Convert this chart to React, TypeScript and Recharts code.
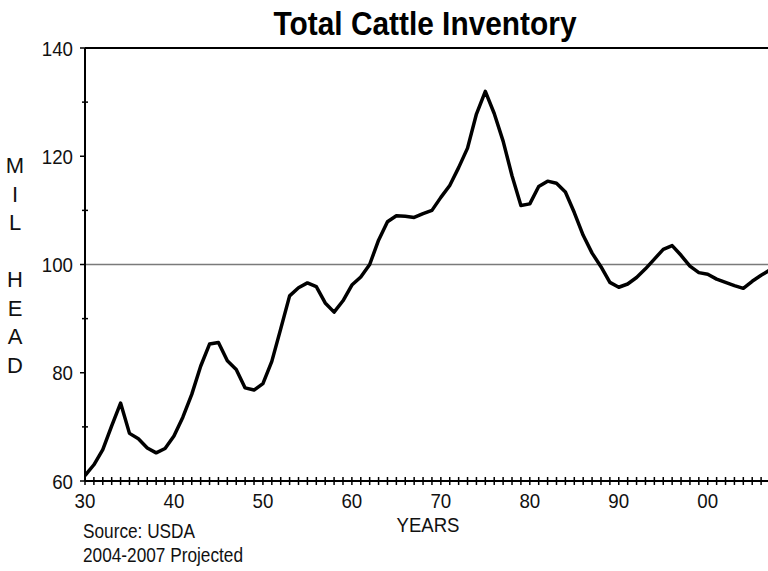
import { LineChart, Line, XAxis, YAxis, ReferenceLine } from 'recharts'

// Jaarlijkse rundveestapel (miljoen stuks), 2004-2007 projectie
const YEARS = [
  1930, 1931, 1932, 1933, 1934, 1935, 1936, 1937, 1938, 1939,
  1940, 1941, 1942, 1943, 1944, 1945, 1946, 1947, 1948, 1949,
  1950, 1951, 1952, 1953, 1954, 1955, 1956, 1957, 1958, 1959,
  1960, 1961, 1962, 1963, 1964, 1965, 1966, 1967, 1968, 1969,
  1970, 1971, 1972, 1973, 1974, 1975, 1976, 1977, 1978, 1979,
  1980, 1981, 1982, 1983, 1984, 1985, 1986, 1987, 1988, 1989,
  1990, 1991, 1992, 1993, 1994, 1995, 1996, 1997, 1998, 1999,
  2000, 2001, 2002, 2003, 2004, 2005, 2006, 2007,
]
const INVENTORY = [
  61.0, 63.0, 65.8, 70.2, 74.4, 68.8, 67.8, 66.1, 65.2, 66.0,
  68.3, 71.8, 76.0, 81.2, 85.3, 85.6, 82.2, 80.6, 77.2, 76.8,
  78.0, 82.1, 88.1, 94.2, 95.7, 96.6, 95.9, 92.9, 91.2, 93.3,
  96.2, 97.7, 100.0, 104.5, 107.9, 109.0, 108.9, 108.7, 109.4, 110.0,
  112.4, 114.6, 117.9, 121.5, 127.8, 132.0, 127.9, 122.8, 116.4, 110.9,
  111.2, 114.4, 115.4, 115.0, 113.4, 109.6, 105.4, 102.1, 99.6, 96.7,
  95.8, 96.4, 97.6, 99.2, 101.0, 102.8, 103.5, 101.7, 99.7, 98.5,
  98.2, 97.3, 96.7, 96.1, 95.6, 96.9, 98.0, 99.0,
]
const DECADES = [1930, 1940, 1950, 1960, 1970, 1980, 1990, 2000]
const DECADE_LABELS = ['30', '40', '50', '60', '70', '80', '90', '00']
const Y_TICKS = [60, 70, 80, 90, 100, 110, 120, 130, 140]
const Y_LABELED = [60, 80, 100, 120, 140]
const Y_TITLE = ['M', 'I', 'L', '', 'H', 'E', 'A', 'D']

const FONT = "'Liberation Sans Narrow', 'Arial Narrow', 'Liberation Sans', Arial, sans-serif"
const CIJFER = 10.4 // breedte per cijfer, smal lettertype

const data = YEARS.map((jaar, i) => ({ jaar, waarde: INVENTORY[i] }))

function XTick(props: any) {
  const x = Number(props.x)
  const y = Number(props.y)
  const idx = DECADES.indexOf(props.payload?.value)
  return (
    <g>
      <path d={`M${x},${y - 4}L${x},${y + 4}`} stroke="#000" strokeWidth={1.5} />
      {idx >= 0 && (
        <text x={x} y={y + 27} textAnchor="middle" fontFamily={FONT} fontSize={21} fill="#111"
          textLength={DECADE_LABELS[idx].length * CIJFER} lengthAdjust="spacingAndGlyphs">
          {DECADE_LABELS[idx]}
        </text>
      )}
    </g>
  )
}

function YTick(props: any) {
  const x = Number(props.x)
  const y = Number(props.y)
  const v = props.payload?.value
  const major = Y_LABELED.includes(v)
  return (
    <g>
      {major
        ? <path d={`M${x - 5},${y}L${x},${y}`} stroke="#000" strokeWidth={1.5} />
        : <path d={`M${x - 3},${y}L${x + 3},${y}`} stroke="#000" strokeWidth={1.5} />}
      {major && (
        <text x={x - 12} y={y + 7.5} textAnchor="end" fontFamily={FONT} fontSize={21} fill="#111"
          textLength={String(v).length * CIJFER} lengthAdjust="spacingAndGlyphs">
          {v}
        </text>
      )}
    </g>
  )
}

export default function App() {
  return (
    <div style={{ width: 768, height: 571, overflow: 'hidden', position: 'relative', background: '#fff' }}>
      <style>{'html,body{margin:0;padding:0;overflow:hidden}'}</style>
      <LineChart width={770} height={571} data={data} margin={{ top: 48, right: 0, left: 0, bottom: 0 }}>
        <XAxis
          dataKey="jaar" type="number" domain={[1930, 2007]} ticks={YEARS}
          height={90} tickSize={0} tickMargin={0} tickLine={false}
          axisLine={{ stroke: '#000', strokeWidth: 2 }}
          tick={<XTick />} interval={0} allowDataOverflow
        />
        <YAxis
          domain={[60, 140]} ticks={Y_TICKS} width={85} tickSize={0} tickMargin={0}
          tickLine={false} axisLine={{ stroke: '#000', strokeWidth: 2 }}
          tick={<YTick />} interval={0}
        />
        <ReferenceLine y={100} stroke="#7a7a7a" strokeWidth={1.5} />
        <ReferenceLine y={140} stroke="#000" strokeWidth={2} />
        <Line
          dataKey="waarde" stroke="#000" strokeWidth={3.5} dot={false}
          strokeLinejoin="round" isAnimationActive={false}
        />
      </LineChart>

      {/* Titels en bronvermelding */}
      <svg width={768} height={571} style={{ position: 'absolute', left: 0, top: 0, pointerEvents: 'none' }}>
        <text x={425} y={35} textAnchor="middle" fontFamily={FONT} fontWeight="bold" fontSize={33}
          fill="#000" textLength={303} lengthAdjust="spacingAndGlyphs">Total Cattle Inventory</text>
        {Y_TITLE.map((letter, i) => (
          <text key={i} x={15} y={173 + i * 28.5} textAnchor="middle" fontFamily={FONT} fontSize={22} fill="#111">
            {letter}
          </text>
        ))}
        <text x={428} y={531.5} textAnchor="middle" fontFamily={FONT} fontSize={21} fill="#111"
          textLength={63} lengthAdjust="spacingAndGlyphs">YEARS</text>
        <text x={83} y={538} fontFamily={FONT} fontSize={21} fill="#111"
          textLength={112} lengthAdjust="spacingAndGlyphs">Source: USDA</text>
        <text x={83} y={562} fontFamily={FONT} fontSize={21} fill="#111"
          textLength={160} lengthAdjust="spacingAndGlyphs">2004-2007 Projected</text>
      </svg>
    </div>
  )
}
